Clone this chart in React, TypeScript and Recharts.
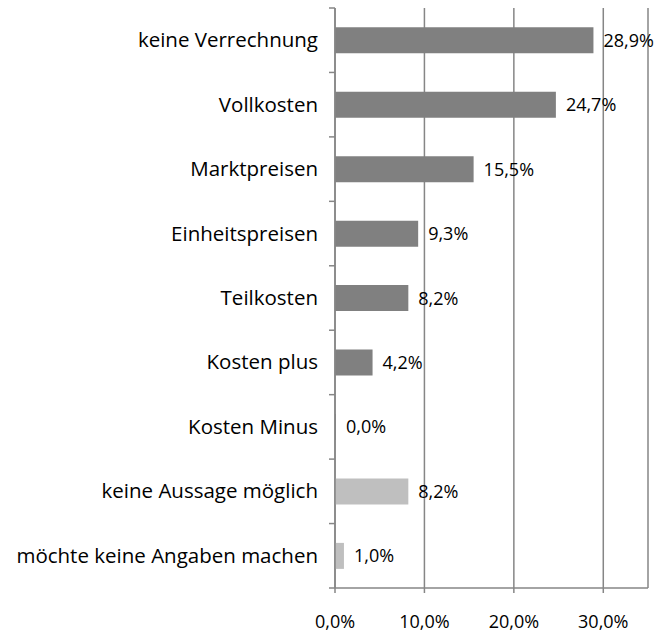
import React from 'react';
import {
  BarChart,
  Bar,
  XAxis,
  YAxis,
  CartesianGrid,
  Cell,
  LabelList,
} from 'recharts';

const categories = [
  'keine Verrechnung',
  'Vollkosten',
  'Marktpreisen',
  'Einheitspreisen',
  'Teilkosten',
  'Kosten plus',
  'Kosten Minus',
  'keine Aussage möglich',
  'möchte keine Angaben machen',
];

const shares = [28.9, 24.7, 15.5, 9.3, 8.2, 4.2, 0.0, 8.2, 1.0];

// the last two answers are not a method, they get the light grey
const noAnswer = ['keine Aussage möglich', 'möchte keine Angaben machen'];

const xTicks = [0, 10, 20, 30];

const FONT = '"Open Sans", sans-serif';
const AXIS = '#868686';

const chartData = categories.map((name, i) => ({ name, value: shares[i] }));

const pct = (v: number) => `${v.toFixed(1).replace('.', ',')}%`;

function CategoryTick(props: any) {
  const { x, y, payload, index, visibleTicksCount } = props;
  const half = payload.offset || 32;
  const axisX = x + 17;
  const last = index === (visibleTicksCount ?? categories.length) - 1;
  return (
    <g>
      <line x1={axisX - 6} x2={axisX} y1={y - half} y2={y - half} stroke={AXIS} strokeWidth={1.5} />
      {last && (
        <line x1={axisX - 6} x2={axisX} y1={y + half} y2={y + half} stroke={AXIS} strokeWidth={1.5} />
      )}
      <text x={x} y={y} dy={7} textAnchor="end" fill="#000" fontSize={20.5} fontFamily={FONT}>
        {payload.value}
      </text>
    </g>
  );
}

export default function App() {
  return (
    <div style={{ position: 'absolute', left: 0, top: 0, background: '#fff' }}>
      <BarChart
        width={668}
        height={634}
        data={chartData}
        layout="vertical"
        margin={{ top: 8, right: 20, bottom: 0, left: 0 }}
        barCategoryGap="30%"
      >
        <CartesianGrid horizontal={false} stroke={AXIS} strokeWidth={1.5} />
        <XAxis
          type="number"
          domain={[0, 35]}
          ticks={xTicks}
          tickFormatter={pct}
          height={46}
          stroke={AXIS}
          strokeWidth={1.5}
          tickSize={5}
          tickMargin={22}
          tick={{ fill: '#000', fontSize: 18, fontFamily: FONT }}
        />
        <YAxis
          type="category"
          dataKey="name"
          width={335}
          stroke={AXIS}
          strokeWidth={1.5}
          tickLine={false}
          tickSize={0}
          tickMargin={17}
          interval={0}
          tick={<CategoryTick />}
        />
        <Bar
          dataKey="value"
          isAnimationActive={false}
          minPointSize={(v: any) => (Number(v) === 0 ? 1 : 0)}
        >
          {chartData.map((d) => (
            <Cell key={d.name} fill={noAnswer.includes(d.name) ? '#bfbfbf' : '#808080'} />
          ))}
          <LabelList
            dataKey="value"
            position="right"
            offset={10}
            formatter={(v: any) => pct(Number(v))}
            fill="#000"
            fontSize={18}
            fontFamily={FONT}
          />
        </Bar>
      </BarChart>
    </div>
  );
}
